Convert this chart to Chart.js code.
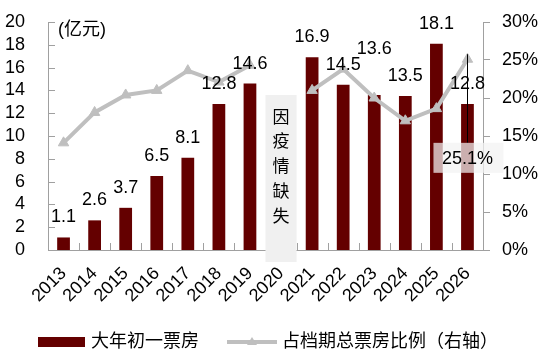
<!DOCTYPE html>
<html>
<head>
<meta charset="utf-8">
<script src="https://cdn.jsdelivr.net/npm/chart.js@4.4.1/dist/chart.umd.min.js"></script>
<style>
html, body { margin: 0; padding: 0; background: #fff; }
</style>
</head>
<body>
<canvas id="chart" width="550" height="361"></canvas>
<script>
// data
const years = ['2013', '2014', '2015', '2016', '2017', '2018', '2019', '2020', '2021', '2022', '2023', '2024', '2025', '2026'];
const boxOffice = [1.1, 2.6, 3.7, 6.5, 8.1, 12.8, 14.6, null, 16.9, 14.5, 13.6, 13.5, 18.1, 12.8];
const sharePct = [14.1, 18.1, 20.4, 21.0, 23.6, 22.1, 24.3, null, 21.0, 23.8, 20.0, 17.0, 18.6, 25.1];
const leftTicks = [0, 2, 4, 6, 8, 10, 12, 14, 16, 18, 20];
const rightTicks = [0, 5, 10, 15, 20, 25, 30];
const unitLabel = '(亿元)';
const missingNote = '因疫情缺失';
const barName = '大年初一票房';
const lineName = '占档期总票房比例（右轴）';

const maroon = '#640000';
const lineGray = '#bfbfbf';
const axisGray = '#a0a0a0';
const FONT = '"Liberation Sans", Arial, "Noto Sans CJK SC", sans-serif';

const overlay = {
    id: 'overlay',
    afterDatasetsDraw(chart) {
        const { ctx, chartArea: a, scales: { x, y, yR } } = chart;
        ctx.save();

        // tick marks pointing inwards (left axis and category boundaries)
        ctx.strokeStyle = axisGray;
        ctx.lineWidth = 1;
        ctx.beginPath();
        leftTicks.forEach(v => {
            const py = Math.round(y.getPixelForValue(v)) + 0.5;
            ctx.moveTo(a.left, py);
            ctx.lineTo(a.left + 7, py);
        });
        for (let i = 1; i < years.length; i++) {
            const px = Math.round(x.getPixelForValue(i - 0.5)) + 0.5;
            ctx.moveTo(px, a.bottom);
            ctx.lineTo(px, a.bottom - 7);
        }
        ctx.stroke();

        // grey box for the missing year
        const iMiss = years.indexOf('2020');
        const bx0 = x.getPixelForValue(iMiss - 0.5);
        const bx1 = x.getPixelForValue(iMiss + 0.5);
        const bTop = y.getPixelForValue(13.6);
        ctx.fillStyle = '#f0f0f0';
        ctx.fillRect(bx0, bTop, bx1 - bx0, a.bottom + 12 - bTop);
        ctx.fillStyle = '#000';
        ctx.font = '17px ' + FONT;
        ctx.textAlign = 'center';
        ctx.textBaseline = 'middle';
        Array.from(missingNote).forEach((c, k) => {
            ctx.fillText(c, (bx0 + bx1) / 2, bTop + 23 + k * 24.8);
        });

        // value labels above bars
        ctx.font = '18px ' + FONT;
        const barMeta = chart.getDatasetMeta(1);
        boxOffice.forEach((v, i) => {
            if (v === null) return;
            const el = barMeta.data[i];
            const lift = years[i] === '2023' ? 46 : 20;
            ctx.fillText(v.toFixed(1), el.x, el.y - lift);
        });

        // callout for the last share value
        const lineMeta = chart.getDatasetMeta(0);
        const last = sharePct.length - 1;
        const pt = lineMeta.data[last];
        const cTop = yR.getPixelForValue(14.1);
        ctx.strokeStyle = '#000';
        ctx.lineWidth = 1;
        ctx.beginPath();
        ctx.moveTo(Math.round(pt.x) + 0.5, pt.y - 5);
        ctx.lineTo(Math.round(pt.x) + 0.5, cTop);
        ctx.stroke();
        ctx.fillStyle = 'rgba(242,242,242,0.72)';
        ctx.fillRect(pt.x - 34, cTop, 70, 30);
        ctx.fillStyle = '#000';
        ctx.fillText(sharePct[last].toFixed(1) + '%', pt.x, cTop + 16);

        // unit label
        ctx.textAlign = 'left';
        ctx.fillText(unitLabel, 58, 30);

        // legend
        const ly = 342;
        ctx.fillStyle = maroon;
        ctx.fillRect(38, ly - 5, 47, 10);
        ctx.fillStyle = '#000';
        ctx.fillText(barName, 91, ly);
        ctx.strokeStyle = lineGray;
        ctx.lineWidth = 4;
        ctx.beginPath();
        ctx.moveTo(227, ly);
        ctx.lineTo(277, ly);
        ctx.stroke();
        ctx.fillStyle = lineGray;
        ctx.beginPath();
        ctx.moveTo(252, ly - 5);
        ctx.lineTo(257, ly + 3);
        ctx.lineTo(247, ly + 3);
        ctx.closePath();
        ctx.fill();
        ctx.fillStyle = '#000';
        ctx.fillText(lineName, 282, ly);

        ctx.restore();
    }
};

const ctx = document.getElementById('chart').getContext('2d');
const chart = new Chart(ctx, {
    type: 'bar',
    data: {
        labels: years,
        datasets: [{
            type: 'line',
            label: lineName,
            data: sharePct,
            yAxisID: 'yR',
            borderColor: lineGray,
            borderWidth: 4,
            pointStyle: 'triangle',
            pointRadius: 6,
            pointBackgroundColor: lineGray,
            pointBorderColor: lineGray,
            pointBorderWidth: 1,
            spanGaps: false,
            tension: 0,
            order: 0
        }, {
            type: 'bar',
            label: barName,
            data: boxOffice,
            yAxisID: 'y',
            backgroundColor: maroon,
            barPercentage: 0.41,
            categoryPercentage: 1,
            order: 1
        }]
    },
    options: {
        responsive: false,
        animation: false,
        layout: { padding: { top: 22, bottom: 36, left: 0, right: 0 } },
        plugins: {
            legend: { display: false },
            tooltip: { enabled: false }
        },
        scales: {
            x: {
                offset: true,
                grid: { display: false, drawTicks: false },
                border: { color: axisGray },
                ticks: {
                    color: '#000',
                    font: { family: FONT, size: 18 },
                    maxRotation: 45,
                    minRotation: 45,
                    autoSkip: false,
                    padding: 13,
                    labelOffset: 0
                },
                afterFit: s => { s.height = 75; s.paddingLeft = 0; s.paddingRight = 0; }
            },
            y: {
                position: 'left',
                min: 0,
                max: 20,
                grid: { display: false, drawTicks: false },
                border: { color: axisGray },
                ticks: {
                    stepSize: 2,
                    autoSkip: false,
                    color: '#000',
                    font: { family: FONT, size: 18 },
                    padding: 23
                },
                afterFit: s => { s.width = 48; s.paddingTop = 0; s.paddingBottom = 0; }
            },
            yR: {
                position: 'right',
                min: 0,
                max: 30,
                grid: { display: true, drawOnChartArea: false, drawTicks: true, tickLength: 7, color: axisGray },
                border: { color: axisGray },
                ticks: {
                    stepSize: 5,
                    autoSkip: false,
                    color: '#000',
                    font: { family: FONT, size: 18 },
                    padding: 12,
                    callback: v => v + '%'
                },
                afterFit: s => { s.width = 67; s.paddingTop = 0; s.paddingBottom = 0; }
            }
        }
    },
    plugins: [overlay]
});
</script>
</body>
</html>
